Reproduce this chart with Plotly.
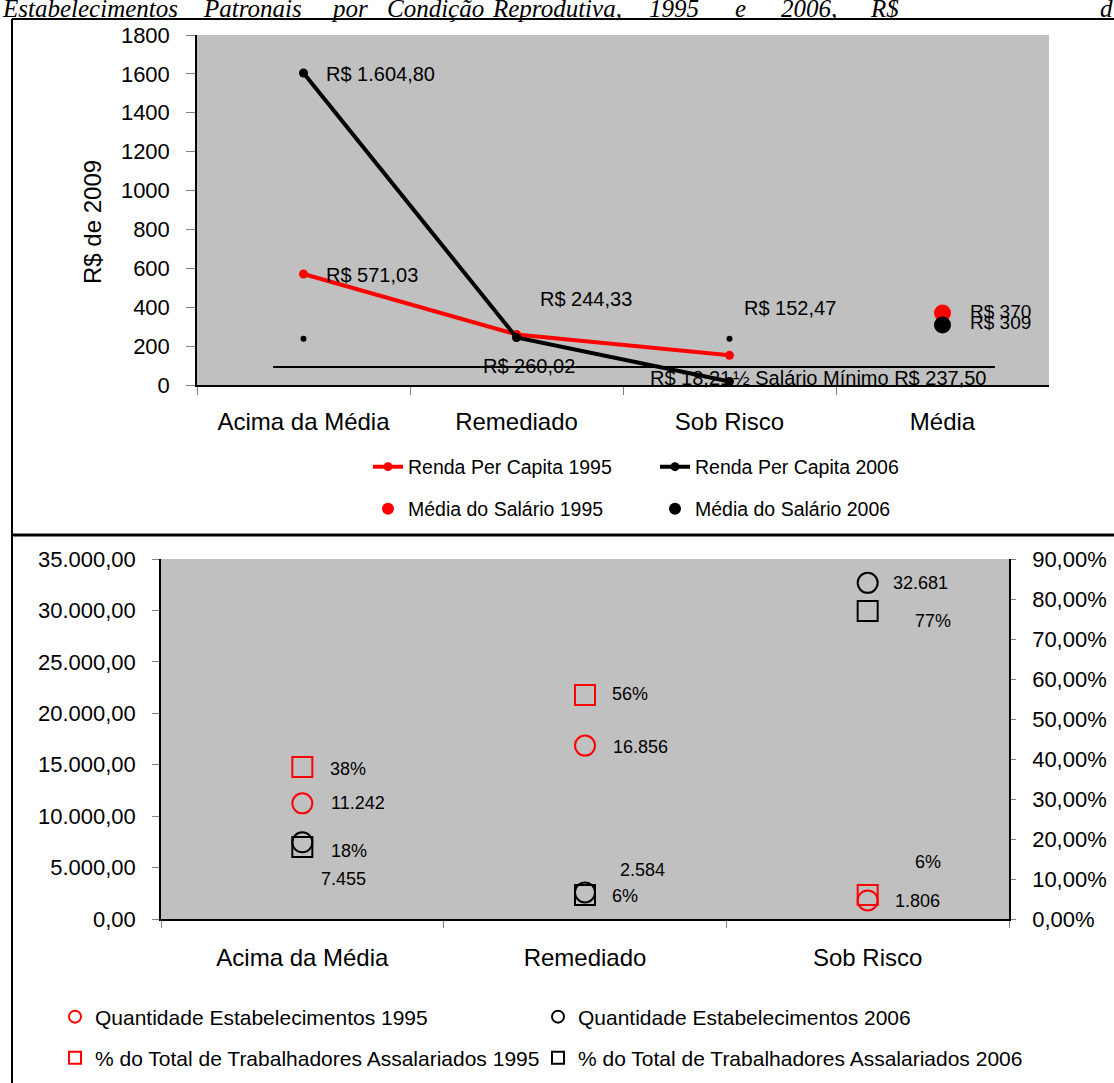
import plotly.graph_objects as go

W, H = 1114, 1083

# ---------------- Renda per capita (R$ de 2009) ----------------
grupos_renda = ["Acima da Média", "Remediado", "Sob Risco", "Média"]
renda_1995 = [571.03, 260.02, 152.47, None]
renda_2006 = [1604.80, 244.33, 18.21, None]
salario_1995 = [None, None, None, 370]
salario_2006 = [None, None, None, 309]
meio_salario_minimo = [237.50, 237.50, 237.50, None]

# ---------------- Estabelecimentos ----------------
grupos_estab = ["Acima da Média", "Remediado", "Sob Risco"]
qtd_1995 = [11242, 16856, 1806]
qtd_2006 = [7455, 2584, 32681]
pct_assal_1995 = [0.38, 0.56, 0.06]
pct_assal_2006 = [0.18, 0.06, 0.77]

FONT = "Liberation Sans, Arial, sans-serif"
GRAY_TICK = "#808080"


def px(x):
    return x / W


def py(y):
    return 1 - y / H


def br(v, dec=2):
    s = f"{v:,.{dec}f}"
    return s.replace(",", "#").replace(".", ",").replace("#", ".")


fig = go.Figure()

# ---- top panel: income lines and wage means ----
fig.add_trace(go.Scatter(x=grupos_renda, y=meio_salario_minimo, mode="markers",
                         marker=dict(color="black", size=6), showlegend=False,
                         xaxis="x", yaxis="y", hoverinfo="skip"))
fig.add_trace(go.Scatter(x=grupos_renda, y=renda_1995, mode="lines+markers",
                         name="Renda Per Capita 1995",
                         line=dict(color="#FF0000", width=4),
                         marker=dict(color="#FF0000", size=9),
                         xaxis="x", yaxis="y", legend="legend"))
fig.add_trace(go.Scatter(x=grupos_renda, y=renda_2006, mode="lines+markers",
                         name="Renda Per Capita 2006",
                         line=dict(color="black", width=4),
                         marker=dict(color="black", size=9),
                         xaxis="x", yaxis="y", legend="legend"))
fig.add_trace(go.Scatter(x=grupos_renda, y=salario_1995, mode="markers",
                         name="Média do Salário 1995",
                         marker=dict(color="#FF0000", size=17),
                         xaxis="x", yaxis="y", legend="legend2"))
fig.add_trace(go.Scatter(x=grupos_renda, y=salario_2006, mode="markers",
                         name="Média do Salário 2006",
                         marker=dict(color="black", size=17),
                         xaxis="x", yaxis="y", legend="legend2"))

# ---- bottom panel: establishments and share of wage earners ----
fig.add_trace(go.Scatter(x=grupos_estab, y=qtd_1995, mode="markers",
                         name="Quantidade Estabelecimentos 1995",
                         marker=dict(symbol="circle-open", color="#FF0000", size=20,
                                     line=dict(width=2, color="#FF0000")),
                         xaxis="x2", yaxis="y2", legend="legend3"))
fig.add_trace(go.Scatter(x=grupos_estab, y=qtd_2006, mode="markers",
                         name="Quantidade Estabelecimentos 2006",
                         marker=dict(symbol="circle-open", color="black", size=20,
                                     line=dict(width=2, color="black")),
                         xaxis="x2", yaxis="y2", legend="legend4"))
fig.add_trace(go.Scatter(x=grupos_estab, y=pct_assal_1995, mode="markers",
                         name="% do Total de Trabalhadores Assalariados 1995",
                         marker=dict(symbol="square-open", color="#FF0000", size=20,
                                     line=dict(width=2, color="#FF0000")),
                         xaxis="x2", yaxis="y3", legend="legend5"))
fig.add_trace(go.Scatter(x=grupos_estab, y=pct_assal_2006, mode="markers",
                         name="% do Total de Trabalhadores Assalariados 2006",
                         marker=dict(symbol="square-open", color="black", size=20,
                                     line=dict(width=2, color="black")),
                         xaxis="x2", yaxis="y3", legend="legend6"))

annotations = []


def label(text, x, y, xs, ys, xref="x", yref="y", size=20):
    annotations.append(dict(text=text, x=x, y=y, xref=xref, yref=yref,
                            xanchor="left", yanchor="middle", xshift=xs, yshift=ys,
                            showarrow=False, font=dict(size=size, color="black", family=FONT)))


# value labels, top panel
label("R$ " + br(renda_2006[0]), grupos_renda[0], renda_2006[0], 20.5, -1)
label("R$ " + br(renda_1995[0]), grupos_renda[0], renda_1995[0], 20.5, -1)
label("R$ " + br(renda_2006[1]), grupos_renda[1], renda_2006[1], 21.5, 38.5)
label("R$ " + br(renda_1995[1]), grupos_renda[1], renda_1995[1], -35.5, -31.6)
label("R$ " + br(renda_1995[2]), grupos_renda[2], renda_1995[2], 12.5, 47.4)
label("R$ " + br(renda_2006[2]), grupos_renda[2], renda_2006[2], -81.5, 3.5)
label("R$ " + br(salario_1995[3], 0), grupos_renda[3], salario_1995[3], 25.5, 2, size=19)
label("R$ " + br(salario_2006[3], 0), grupos_renda[3], salario_2006[3], 25.5, 2, size=19)
label("½ Salário Mínimo R$ " + br(meio_salario_minimo[2]), grupos_renda[2],
      meio_salario_minimo[2], 1.5, -39.2)

# value labels, bottom panel
B = dict(xref="x2", size=18)
label(f"{pct_assal_1995[0]:.0%}", grupos_estab[0], pct_assal_1995[0], 25.7, -2, yref="y3", **B)
label(br(qtd_1995[0], 0), grupos_estab[0], qtd_1995[0], 26.7, 0, yref="y2", **B)
label(f"{pct_assal_2006[0]:.0%}", grupos_estab[0], pct_assal_2006[0], 26.7, -4, yref="y3", **B)
label(br(qtd_2006[0], 0), grupos_estab[0], qtd_2006[0], 16.7, -36.7, yref="y2", **B)
label(f"{pct_assal_1995[1]:.0%}", grupos_estab[1], pct_assal_1995[1], 25, 1, yref="y3", **B)
label(br(qtd_1995[1], 0), grupos_estab[1], qtd_1995[1], 26, -1, yref="y2", **B)
label(br(qtd_2006[1], 0), grupos_estab[1], qtd_2006[1], 33, 22, yref="y2", **B)
label(f"{pct_assal_2006[1]:.0%}", grupos_estab[1], pct_assal_2006[1], 25, -1, yref="y3", **B)
label(br(qtd_2006[2], 0), grupos_estab[2], qtd_2006[2], 23.3, 0, yref="y2", **B)
label(f"{pct_assal_2006[2]:.0%}", grupos_estab[2], pct_assal_2006[2], 45.3, -10, yref="y3", **B)
label(f"{pct_assal_1995[2]:.0%}", grupos_estab[2], pct_assal_1995[2], 45.3, 33, yref="y3", **B)
label(br(qtd_1995[2], 0), grupos_estab[2], qtd_1995[2], 25.3, -0.6, yref="y2", **B)

# y-axis title of the top panel
annotations.append(dict(text="R$ de 2009", x=px(92), y=py(222), xref="paper", yref="paper",
                        xanchor="center", yanchor="middle", textangle=-90, showarrow=False,
                        font=dict(size=24, color="black", family=FONT)))

# running heading line above the panels (clipped at the page top)
titulo = [("Estabelecimentos", 0), ("Patronais", 201), ("por", 329), ("Condição", 385),
          ("Reprodutiva,", 490), ("1995", 647), ("e", 733), ("2006,", 779),
          ("R$", 868), ("d", 1098)]
for palavra, x0 in titulo:
    annotations.append(dict(text=f"<i>{palavra}</i>", x=px(x0), y=py(8), xref="paper",
                            yref="paper", xanchor="left", yanchor="middle",
                            showarrow=False,
                            font=dict(size=25, color="black",
                                      family="Liberation Serif, Times New Roman, serif")))

shapes = [
    # panel frames
    dict(type="line", xref="paper", yref="paper", x0=px(12), x1=1, y0=py(19), y1=py(19),
         line=dict(color="black", width=2)),
    dict(type="line", xref="paper", yref="paper", x0=px(12), x1=px(12), y0=0, y1=py(19),
         line=dict(color="black", width=2)),
    dict(type="line", xref="paper", yref="paper", x0=px(12), x1=1, y0=py(535), y1=py(535),
         line=dict(color="black", width=3)),
    # half minimum wage reference line
    dict(type="line", xref="x", yref="y", x0=-0.143, x1=3.246, y0=92, y1=92,
         line=dict(color="black", width=2)),
]

axis_common = dict(showline=True, linecolor="black", linewidth=1.5, showgrid=False,
                   zeroline=False, ticks="outside", tickcolor=GRAY_TICK, tickwidth=1,
                   fixedrange=True)

legend_common = dict(orientation="h", xanchor="left", yanchor="middle",
                     bgcolor="rgba(0,0,0,0)", borderwidth=0, itemclick=False,
                     itemdoubleclick=False)

top_legend_font = dict(size=19.5, color="black", family=FONT)
bottom_legend_font = dict(size=21, color="black", family=FONT)

fig.update_layout(
    width=W, height=H,
    margin=dict(l=0, r=0, t=0, b=0, autoexpand=False),
    paper_bgcolor="white", plot_bgcolor="#C0C0C0",
    separators=",.",
    font=dict(family=FONT, color="black"),
    xaxis=dict(domain=[px(197), px(1049)], anchor="y", type="category",
               categoryorder="array", categoryarray=grupos_renda, range=[-0.5, 3.5],
               tickson="boundaries", ticklen=8, ticklabelstandoff=14,
               tickfont=dict(size=24), **axis_common),
    yaxis=dict(domain=[py(385), py(35)], anchor="x", range=[0, 1800], dtick=200,
               tickformat="d", ticklen=9, ticklabelstandoff=12,
               tickfont=dict(size=22), **axis_common),
    xaxis2=dict(domain=[px(161), px(1009)], anchor="y2", type="category",
                categoryorder="array", categoryarray=grupos_estab, range=[-0.5, 2.5],
                tickson="boundaries", ticklen=7, ticklabelstandoff=16,
                tickfont=dict(size=24), **axis_common),
    yaxis2=dict(domain=[py(919), py(559)], anchor="x2", range=[0, 35000], dtick=5000,
                tickformat=",.2f", ticklen=7, ticklabelstandoff=12,
                tickfont=dict(size=22), **axis_common),
    yaxis3=dict(overlaying="y2", anchor="x2", side="right", range=[0, 0.9], dtick=0.1,
                tickformat=".2%", ticklen=5, ticklabelstandoff=12,
                tickfont=dict(size=22), **axis_common),
    legend=dict(x=px(368), y=py(467), entrywidthmode="pixels", entrywidth=242,
                font=top_legend_font, **legend_common),
    legend2=dict(x=px(368), y=py(509), entrywidthmode="pixels", entrywidth=242,
                 itemsizing="constant", font=top_legend_font, **legend_common),
    legend3=dict(x=px(55), y=py(1017), itemsizing="constant",
                 font=bottom_legend_font, **legend_common),
    legend4=dict(x=px(538), y=py(1017), itemsizing="constant",
                 font=bottom_legend_font, **legend_common),
    legend5=dict(x=px(55), y=py(1058), itemsizing="constant",
                 font=bottom_legend_font, **legend_common),
    legend6=dict(x=px(538), y=py(1058), itemsizing="constant",
                 font=bottom_legend_font, **legend_common),
    annotations=annotations,
    shapes=shapes,
)

fig.write_html("out.html")
